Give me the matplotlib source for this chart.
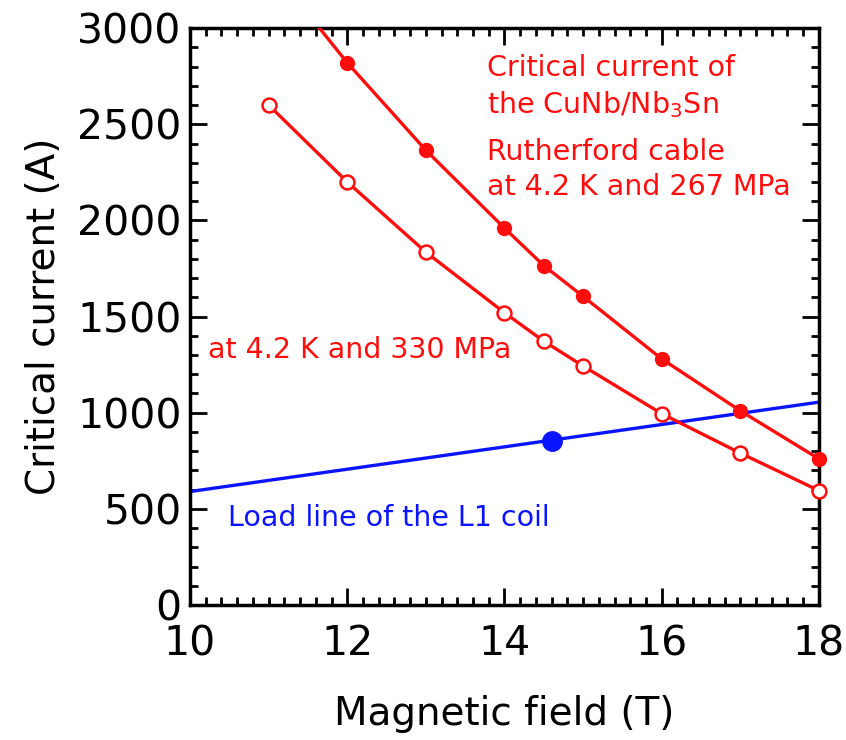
import matplotlib
matplotlib.use("Agg")
import matplotlib.pyplot as plt
import numpy as np
from matplotlib.ticker import MultipleLocator

plt.rcParams["font.family"] = ["DejaVu Sans"]

# Critical current at 4.2 K and 267 MPa (filled markers)
field_267 = [11.0, 12.0, 13.0, 14.0, 14.5, 15.0, 16.0, 17.0, 18.0]
ic_267 = [3330, 2820, 2365, 1960, 1765, 1605, 1280, 1010, 760]

# Critical current at 4.2 K and 330 MPa (open markers)
field_330 = [11.0, 12.0, 13.0, 14.0, 14.5, 15.0, 16.0, 17.0, 18.0]
ic_330 = [2600, 2200, 1835, 1520, 1372, 1243, 995, 790, 595]

# Load line of the L1 coil
field_load = [10.0, 18.0]
ic_load = [590, 1055]
op_point = (14.6, 855)

RED = "#ff0d0d"
BLUE = "#0a14ff"

fig = plt.figure(figsize=(8.46, 7.4), dpi=100)
ax = fig.add_axes([0.2246, 0.1824, 0.7434, 0.7796])

ax.plot(field_267[1:], ic_267[1:], "o", color=RED, ms=10, zorder=4, clip_on=False)
ax.plot(field_267, ic_267, "-", color=RED, lw=2.4, zorder=3)
ax.plot(field_330, ic_330, "o-", color=RED, lw=2.4, ms=10, mfc="white", mec=RED,
        mew=1.8, zorder=3, clip_on=False)
ax.plot(field_load, ic_load, "-", color=BLUE, lw=2.4, zorder=2)
ax.plot(*op_point, "o", color=BLUE, ms=14, zorder=4)

ax.set_xlim(10, 18)
ax.set_ylim(0, 3000)
ax.xaxis.set_major_locator(MultipleLocator(2))
ax.xaxis.set_minor_locator(MultipleLocator(0.2))
ax.yaxis.set_major_locator(MultipleLocator(500))
ax.yaxis.set_minor_locator(MultipleLocator(100))
ax.tick_params(which="both", direction="in", top=True, right=True,
               labelsize=29.5, width=2)
ax.tick_params(which="major", length=12)
ax.tick_params(which="minor", length=6)
ax.tick_params(axis="x", which="major", pad=14)
ax.tick_params(axis="y", which="major", pad=6)
for s in ax.spines.values():
    s.set_linewidth(2.5)

ax.set_xlabel("Magnetic field (T)", fontsize=28, labelpad=22)
ax.set_ylabel("Critical current (A)", fontsize=28, labelpad=10)

txt = dict(color=RED, fontsize=20.5, va="center", ha="left")
ax.text(13.78, 2792, "Critical current of", **txt)
ax.text(13.78, 2600, "the CuNb/Nb$_3$Sn", **txt)
ax.text(13.78, 2356, "Rutherford cable", **txt)
ax.text(13.78, 2174, "at 4.2 K and 267 MPa", **txt)
ax.text(10.23, 1326, "at 4.2 K and 330 MPa", **txt)
ax.text(10.48, 452, "Load line of the L1 coil", color=BLUE, fontsize=20.5,
        va="center", ha="left")

fig.savefig("out.png", dpi=100)
